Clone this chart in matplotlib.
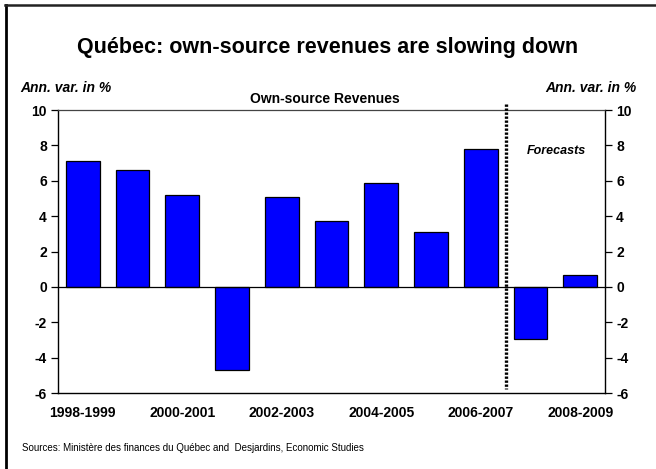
import matplotlib
matplotlib.use("Agg")
import matplotlib.pyplot as plt
from matplotlib.lines import Line2D

plt.rcParams['font.family'] = ['Liberation Sans', 'DejaVu Sans']

years = ["1998-1999", "1999-2000", "2000-2001", "2001-2002", "2002-2003", "2003-2004",
         "2004-2005", "2005-2006", "2006-2007", "2007-2008", "2008-2009"]
values = [7.1, 6.6, 5.2, -4.7, 5.1, 3.75, 5.9, 3.1, 7.8, -2.95, 0.65]
shown_labels = ["1998-1999", "2000-2001", "2002-2003", "2004-2005", "2006-2007", "2008-2009"]
yticks = [-6, -4, -2, 0, 2, 4, 6, 8, 10]

W, H = 656, 469
fig = plt.figure(figsize=(W / 100, H / 100), dpi=100)
fig.patch.set_facecolor('white')

ax = fig.add_axes([58 / W, 1 - 393 / H, (605 - 58) / W, (393 - 110) / H])
x = list(range(len(years)))
ax.bar(x, values, width=0.68, color='#0000FF', edgecolor='black', linewidth=0.9, zorder=3)
ax.axhline(0, color='black', linewidth=0.9, zorder=4)
ax.set_xlim(-0.5, len(years) - 0.5)
ax.set_ylim(-6, 10)
ax.set_yticks(yticks)
ax.set_yticklabels([str(t) for t in yticks], fontsize=10, fontweight='bold')
ax.tick_params(axis='y', direction='out', length=5, width=0.9, pad=3)
pos = [years.index(l) for l in shown_labels]
ax.set_xticks(pos)
ax.set_xticklabels(shown_labels, fontsize=10, fontweight='bold')
ax.tick_params(axis='x', length=0, pad=9)
for s in ['left', 'right', 'bottom']:
    ax.spines[s].set_linewidth(1.0)
    ax.spines[s].set_color('black')
ax.spines['top'].set_linewidth(0.9)
ax.spines['top'].set_color('#444444')

ax2 = ax.twinx()
ax2.set_ylim(-6, 10)
ax2.set_yticks(yticks)
ax2.set_yticklabels([str(t) for t in yticks], fontsize=10, fontweight='bold')
ax2.tick_params(axis='y', direction='out', length=5, width=0.9, pad=3)
for s in ax2.spines.values():
    s.set_visible(False)

ax.plot([8.5, 8.5], [10.35, -5.8], color='black', linestyle=(0, (0.7, 0.5)), linewidth=2.4,
        clip_on=False, zorder=5)
ax.text(9.52, 7.7, "Forecasts", fontsize=9, fontweight='bold', fontstyle='italic',
        ha='center', va='center')

fig.text(328 / W, 1 - 47 / H, "Québec: own-source revenues are slowing down",
         fontsize=15.5, fontweight='bold', ha='center', va='center')
fig.text(325 / W, 1 - 99 / H, "Own-source Revenues", fontsize=10, fontweight='bold',
         ha='center', va='center')
fig.text(20 / W, 1 - 88 / H, "Ann. var. in %", fontsize=10, fontweight='bold',
         fontstyle='italic', ha='left', va='center')
fig.text(637 / W, 1 - 88 / H, "Ann. var. in %", fontsize=10, fontweight='bold',
         fontstyle='italic', ha='right', va='center')
fig.text(22 / W, 1 - 448 / H, "Sources: Ministère des finances du Québec and  Desjardins, Economic Studies",
         fontsize=7, ha='left', va='center')

fig.add_artist(Line2D([6 / W, 6 / W], [0, 1 - 5 / H], transform=fig.transFigure,
                      color='black', linewidth=2))
fig.add_artist(Line2D([5 / W, 1], [1 - 5.5 / H, 1 - 5.5 / H], transform=fig.transFigure,
                      color='#222222', linewidth=1.8))

fig.savefig("out.png", dpi=100)
